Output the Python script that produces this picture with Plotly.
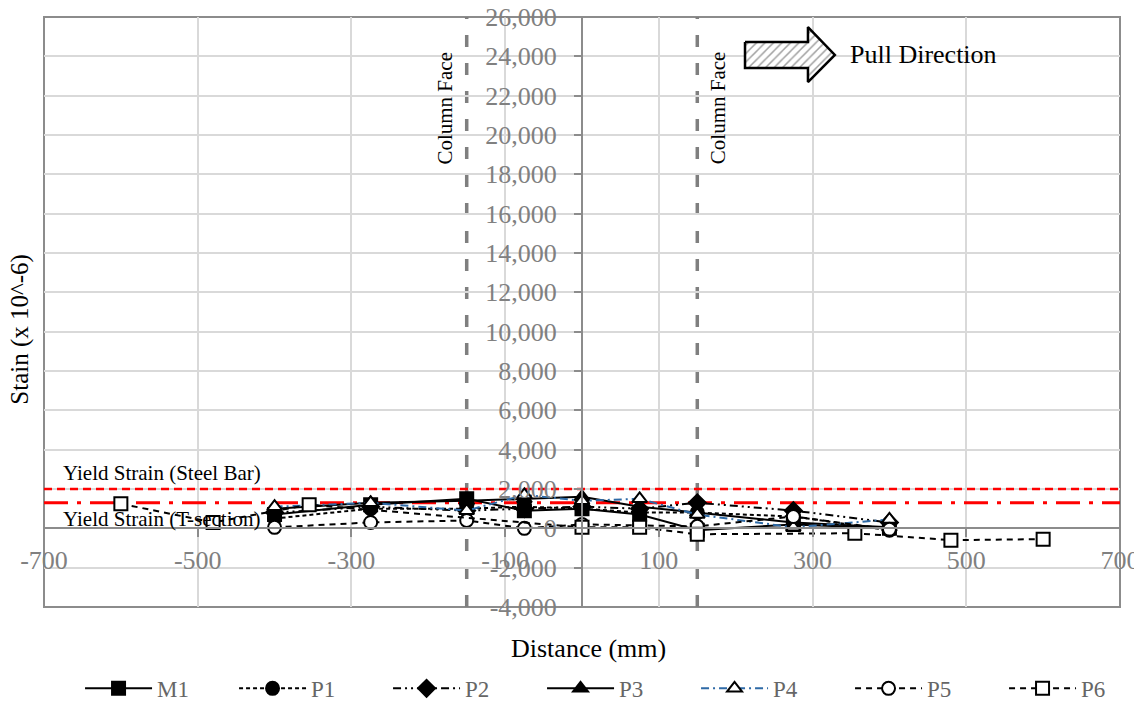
import plotly.graph_objects as go

# Strain-gauge locations along the bar (mm) and readings (x 10^-6)
distance_mm = [-400, -275, -150, -75, 0, 75, 150, 275, 400]
strain_m1 = [700, 1200, 1500, 900, 1000, 700, -100, 200, 0]
strain_p1 = [500, 1000, 1000, 1100, 1000, 800, 800, 600, -100]
strain_p2 = [800, 1100, 900, 1000, 1100, 1000, 1300, 900, 300]
strain_p3 = [1000, 1300, 1400, 1500, 1600, 1100, 800, 300, 50]
strain_p4 = [1100, 1300, 900, 1700, 1400, 1500, 700, 50, 450]
strain_p5 = [50, 300, 400, 0, 200, 150, 100, 600, -50]

distance_p6_mm = [-600, -480, -355, 0, 75, 150, 355, 480, 600]
strain_p6 = [1250, 300, 1200, 50, 50, -300, -250, -600, -550]

# Reference lines
column_faces_mm = [-150, 150]
yield_steel_bar = 2000
yield_t_section = 1300

# Axis ticks
x_range = [-700, 700]
y_range = [-4000, 26000]
x_tick_vals = [-700, -500, -300, -100, 100, 300, 500, 700]
x_tick_text = ["-700", "-500", "-300", "-100", "100", "300", "500", "700"]
y_tick_vals = [-4000, -2000, 0, 2000, 4000, 6000, 8000, 10000, 12000,
               14000, 16000, 18000, 20000, 22000, 24000, 26000]
y_tick_text = ["-4,000", "-2,000", "0", "2,000", "4,000", "6,000", "8,000",
               "10,000", "12,000", "14,000", "16,000", "18,000", "20,000",
               "22,000", "24,000", "26,000"]

# Pull-direction block arrow, in plot-area fractions
arrow_x = [0.6515, 0.710, 0.710, 0.735, 0.710, 0.710, 0.6515, 0.6515]
arrow_y = [0.9576, 0.9576, 0.983, 0.9356, 0.8898, 0.9136, 0.9136, 0.9576]

FONT = "Liberation Serif"
GRID = "#d9d9d9"
AXIS = "#8c8c8c"
TICK_TXT = "#808080"

series = [
    ("M1", distance_mm, strain_m1, "solid", "black", "square", "black"),
    ("P1", distance_mm, strain_p1, "4px,3px", "black", "circle", "black"),
    ("P2", distance_mm, strain_p2, "8px,4px,2px,4px,2px,4px", "black", "diamond", "black"),
    ("P3", distance_mm, strain_p3, "solid", "black", "triangle-up", "black"),
    ("P4", distance_mm, strain_p4, "8px,4px,2px,4px", "#2e6aa6", "triangle-up", "white"),
    ("P5", distance_mm, strain_p5, "6px,5px", "black", "circle", "white"),
    ("P6", distance_p6_mm, strain_p6, "6px,5px", "black", "square", "white"),
]

fig = go.Figure()

for name, xs, ys, dash, lcolor, symbol, fill in series:
    fig.add_trace(go.Scatter(
        x=xs, y=ys, name=name, mode="lines+markers",
        line=dict(color=lcolor, width=2, dash=dash),
        marker=dict(symbol=symbol, size=13, color=fill,
                    line=dict(color="black", width=2)),
        hoverinfo="x+y+name",
    ))

# Hatched block arrow on an overlay axis pair spanning the plot area
fig.add_trace(go.Scatter(
    x=arrow_x, y=arrow_y, xaxis="x2", yaxis="y2", mode="lines",
    fill="toself", fillcolor="white",
    fillpattern=dict(shape="/", fgcolor="#444444", bgcolor="white",
                     size=6, solidity=0.25),
    line=dict(color="black", width=2.5),
    showlegend=False, hoverinfo="skip",
))

shapes = [
    # plot frame
    dict(type="rect", xref="paper", yref="paper", x0=0, x1=1, y0=0, y1=1,
         line=dict(color=AXIS, width=2), layer="below"),
    # yield strain lines
    dict(type="line", xref="x", yref="y", x0=x_range[0], x1=x_range[1],
         y0=yield_steel_bar, y1=yield_steel_bar,
         line=dict(color="#ff0000", width=2.5, dash="8px,5px"), layer="between"),
    dict(type="line", xref="x", yref="y", x0=x_range[0], x1=x_range[1],
         y0=yield_t_section, y1=yield_t_section,
         line=dict(color="#ff0000", width=3, dash="24px,9px,4px,9px"), layer="between"),
]
for xf in column_faces_mm:
    shapes.append(dict(type="line", xref="x", yref="paper", x0=xf, x1=xf,
                       y0=0, y1=1, line=dict(color="#7f7f7f", width=3.5, dash="12px,16px"),
                       layer="between"))

annotations = [
    dict(text="Column Face", xref="x", yref="paper", x=column_faces_mm[0], y=0.846,
         xshift=-22, xanchor="center", yanchor="middle", textangle=-90, showarrow=False,
         font=dict(family=FONT, size=21, color="black")),
    dict(text="Column Face", xref="x", yref="paper", x=column_faces_mm[1], y=0.846,
         xshift=21, xanchor="center", yanchor="middle", textangle=-90, showarrow=False,
         font=dict(family=FONT, size=21, color="black")),
    dict(text="Pull Direction", xref="paper", yref="paper", x=0.747, y=0.9356,
         xanchor="left", yanchor="middle", showarrow=False,
         font=dict(family=FONT, size=26, color="black")),
    dict(text="Yield Strain (Steel Bar)", xref="paper", yref="y", x=0.0158, y=yield_steel_bar,
         yshift=16, xanchor="left", yanchor="middle", showarrow=False,
         font=dict(family=FONT, size=21, color="black")),
    dict(text="Yield Strain (T-section)", xref="paper", yref="y", x=0.0158, y=yield_t_section,
         yshift=-16, xanchor="left", yanchor="middle", showarrow=False,
         font=dict(family=FONT, size=21, color="black")),
    dict(text="Distance (mm)", xref="paper", yref="paper", x=0.5056, y=-0.0695,
         xanchor="center", yanchor="middle", showarrow=False,
         font=dict(family=FONT, size=26, color="black")),
    dict(text="Stain (x 10^-6)", xref="paper", yref="paper", x=-0.0223, y=0.47,
         xanchor="center", yanchor="middle", textangle=-90, showarrow=False,
         font=dict(family=FONT, size=25, color="black")),
]

zero_frac_y = (0 - y_range[0]) / (y_range[1] - y_range[0])
zero_frac_x = (0 - x_range[0]) / (x_range[1] - x_range[0])

fig.update_layout(
    width=1134, height=704,
    margin=dict(l=44, r=14, t=17, b=97, autoexpand=False),
    paper_bgcolor="white", plot_bgcolor="white",
    font=dict(family=FONT, color=TICK_TXT),
    xaxis=dict(range=x_range, tickvals=x_tick_vals, ticktext=x_tick_text,
               showgrid=True, gridcolor=GRID, gridwidth=2,
               zeroline=False, showline=True, linecolor=AXIS, linewidth=2,
               anchor="free", position=zero_frac_y,
               ticks="outside", ticklen=8, tickwidth=2, tickcolor=AXIS,
               ticklabelstandoff=0, ticklabeloverflow="allow",
               tickfont=dict(family=FONT, size=26, color=TICK_TXT)),
    yaxis=dict(range=y_range, tickvals=y_tick_vals, ticktext=y_tick_text,
               showgrid=True, gridcolor=GRID, gridwidth=2,
               zeroline=False, showline=True, linecolor=AXIS, linewidth=2,
               anchor="free", position=zero_frac_x,
               ticks="outside", ticklen=7, tickwidth=2, tickcolor=AXIS,
               ticklabelstandoff=12, ticklabeloverflow="allow",
               tickfont=dict(family=FONT, size=26, color=TICK_TXT)),
    xaxis2=dict(overlaying="x", range=[0, 1], visible=False, anchor="y2"),
    yaxis2=dict(overlaying="y", range=[0, 1], visible=False, anchor="x2"),
    showlegend=True,
    legend=dict(orientation="h", x=0.0335, y=-0.138, xanchor="left", yanchor="middle",
                itemwidth=67, entrywidthmode="pixels", entrywidth=72,
                font=dict(family=FONT, size=23, color="#666666"),
                bgcolor="rgba(0,0,0,0)", traceorder="normal"),
    shapes=shapes,
    annotations=annotations,
)

fig.write_html("out.html")
